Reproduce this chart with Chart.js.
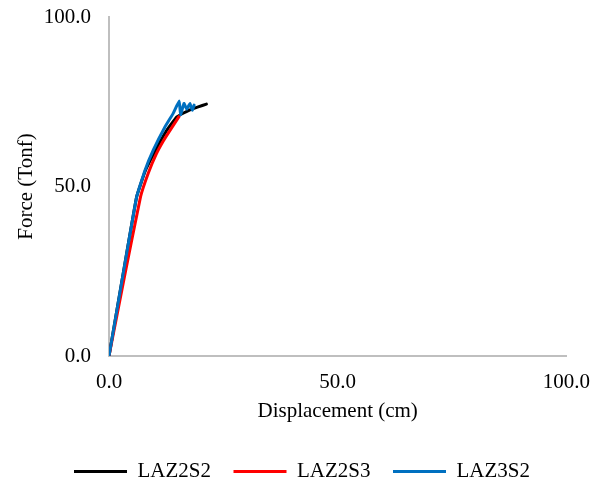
<!DOCTYPE html>
<html>
<head>
<meta charset="utf-8">
<script src="https://cdn.jsdelivr.net/npm/chart.js@4.4.1/dist/chart.umd.min.js"></script>
<style>
  html, body { margin: 0; padding: 0; background: #fff; }
  #wrap { width: 604px; height: 489px; }
</style>
</head>
<body>
<div id="wrap"><canvas id="graphique"></canvas></div>
<script>
// Courbes force - deplacement
const nomsSeries = ["LAZ2S2", "LAZ2S3", "LAZ3S2"];
const couleurs = ["#000000", "#ff0000", "#0070c0"];

const depl_LAZ2S2 = [0, 3.0, 6.05, 7.9, 9.9, 12.6, 14.8, 16.2, 17.7, 19.5, 21.3];
const force_LAZ2S2 = [0, 23.5, 47, 54.5, 60, 66.5, 70.5, 71.6, 72.6, 73.5, 74.3];

const depl_LAZ2S3 = [0, 3.4, 6.9, 8.6, 10.3, 11.9, 13.3, 15.3];
const force_LAZ2S3 = [0, 23.5, 47, 54, 59.5, 63.5, 66.5, 70.6];

const depl_LAZ3S2 = [0, 3.0, 6.05, 7.9, 9.7, 12.2, 14.0, 15.35, 15.65, 16.4, 17.0, 17.7, 18.2, 18.6];
const force_LAZ3S2 = [0, 23.5, 47, 54.9, 60.8, 67.5, 71.5, 75.2, 71.2, 74.5, 72.8, 74.5, 72.5, 74.0];

const ticksX = [0, 50, 100];
const ticksY = [0, 50, 100];

function points(xs, ys) {
  const pts = [];
  for (let i = 0; i < xs.length; i++) {
    pts.push({ x: xs[i], y: ys[i] });
  }
  return pts;
}

const series = [
  points(depl_LAZ2S2, force_LAZ2S2),
  points(depl_LAZ2S3, force_LAZ2S3),
  points(depl_LAZ3S2, force_LAZ3S2)
];

const police = "'Liberation Serif', 'Times New Roman', serif";

const data = {
  datasets: nomsSeries.map((nom, i) => ({
    label: nom,
    data: series[i],
    borderColor: couleurs[i],
    backgroundColor: couleurs[i],
    borderWidth: 3,
    pointRadius: 0,
    tension: 0.1,
    borderJoinStyle: "round",
    borderCapStyle: "round",
    // la derniere serie passe au-dessus, comme dans Excel
    order: nomsSeries.length - i
  }))
};

const config = {
  type: "line",
  data: data,
  options: {
    responsive: false,
    animation: false,
    layout: { padding: { top: 17, right: 0, left: 0, bottom: -3 } },
    plugins: {
      tooltip: { enabled: false },
      legend: {
        position: "bottom",
        labels: {
          usePointStyle: true,
          pointStyle: "line",
          pointStyleWidth: 53,
          padding: 22.5,
          color: "#000",
          font: { family: police, size: 21 },
          sort: (a, b) => a.datasetIndex - b.datasetIndex
        }
      }
    },
    scales: {
      x: {
        type: "linear",
        min: 0,
        max: 100,
        afterBuildTicks: (axis) => { axis.ticks = ticksX.map(v => ({ value: v })); },
        afterFit: (scale) => { scale.height = 82.5; },
        grid: { display: false, drawTicks: false },
        border: { display: true, color: "#bfbfbf", width: 2 },
        ticks: {
          padding: 14,
          color: "#000",
          font: { family: police, size: 21 },
          callback: (v) => Number(v).toFixed(1)
        },
        title: {
          display: true,
          text: "Displacement (cm)",
          color: "#000",
          font: { family: police, size: 21 },
          padding: { top: 0, bottom: 14 }
        }
      },
      y: {
        min: 0,
        max: 100,
        afterBuildTicks: (axis) => { axis.ticks = ticksY.map(v => ({ value: v })); },
        afterFit: (scale) => {
          scale.width = 109;
          scale.paddingTop = 0;
          scale.paddingBottom = 0;
        },
        grid: { display: false, drawTicks: false },
        border: { display: true, color: "#bfbfbf", width: 2 },
        ticks: {
          padding: 18,
          color: "#000",
          font: { family: police, size: 21 },
          callback: (v) => Number(v).toFixed(1)
        },
        title: {
          display: true,
          text: "Force (Tonf)",
          color: "#000",
          font: { family: police, size: 21 },
          padding: { top: 14, bottom: 0 }
        }
      },
      // marge droite vide (garde la legende centree sur toute la largeur)
      marge: {
        position: "right",
        min: 0,
        max: 100,
        afterFit: (scale) => {
          scale.width = 37;
          scale.paddingTop = 0;
          scale.paddingBottom = 0;
        },
        grid: { display: false, drawTicks: false },
        border: { display: false },
        ticks: { display: false }
      }
    }
  }
};

const canvas = document.querySelector("#graphique");
canvas.width = 604;
canvas.height = 489;
new Chart(canvas, config);
</script>
</body>
</html>
